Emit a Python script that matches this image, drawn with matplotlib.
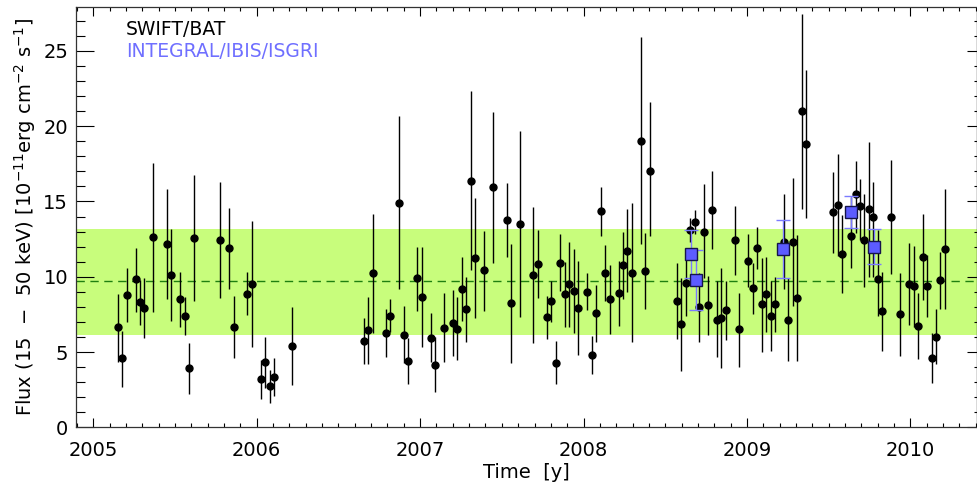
import matplotlib
matplotlib.use('Agg')
import matplotlib.pyplot as plt
import numpy as np
from matplotlib.ticker import MultipleLocator

# SWIFT/BAT light curve: time [y], flux, upper and lower end of error bar
t_bat = [2005.149, 2005.176, 2005.204, 2005.259, 2005.286, 2005.312, 2005.367, 2005.449,
         2005.477, 2005.532, 2005.559, 2005.588, 2005.614, 2005.777, 2005.832, 2005.861,
         2005.943, 2005.969, 2006.024, 2006.051, 2006.080, 2006.106, 2006.216, 2006.655,
         2006.681, 2006.710, 2006.791, 2006.818, 2006.873, 2006.900, 2006.928, 2006.981,
         2007.010, 2007.065, 2007.091, 2007.146, 2007.201, 2007.228, 2007.256, 2007.283,
         2007.310, 2007.338, 2007.393, 2007.448, 2007.530, 2007.556, 2007.611, 2007.693,
         2007.722, 2007.777, 2007.803, 2007.832, 2007.858, 2007.885, 2007.913, 2007.940,
         2007.968, 2008.023, 2008.050, 2008.078, 2008.105, 2008.132, 2008.160, 2008.215,
         2008.242, 2008.268, 2008.297, 2008.352, 2008.378, 2008.407, 2008.570, 2008.597,
         2008.625, 2008.652, 2008.681, 2008.707, 2008.736, 2008.762, 2008.788, 2008.817,
         2008.843, 2008.870, 2008.925, 2008.953, 2009.009, 2009.035, 2009.062, 2009.091,
         2009.117, 2009.146, 2009.172, 2009.227, 2009.253, 2009.282, 2009.308, 2009.337,
         2009.364, 2009.529, 2009.556, 2009.584, 2009.639, 2009.666, 2009.692, 2009.719,
         2009.747, 2009.774, 2009.802, 2009.829, 2009.884, 2009.939, 2009.994, 2010.021,
         2010.049, 2010.076, 2010.102, 2010.131, 2010.157, 2010.184, 2010.212]
f_bat = [6.64, 4.58, 8.78, 9.83, 8.30, 7.92, 12.62, 12.17, 10.13, 8.52, 7.39, 3.92, 12.57,
         12.44, 11.89, 6.68, 8.87, 9.54, 3.19, 4.34, 2.72, 3.36, 5.40, 5.73, 6.44, 10.25,
         6.26, 7.41, 14.91, 6.13, 4.38, 9.89, 8.65, 5.95, 4.16, 6.61, 6.95, 6.53, 9.20,
         7.83, 16.37, 11.24, 10.42, 15.94, 13.78, 8.23, 13.50, 10.13, 10.82, 7.30, 8.39,
         4.29, 10.93, 8.87, 9.50, 9.05, 7.92, 9.00, 4.80, 7.59, 14.34, 10.25, 8.50, 8.92,
         10.78, 11.73, 10.27, 19.03, 10.38, 17.01, 8.41, 6.86, 9.56, 13.10, 13.61, 8.01,
         12.99, 8.10, 14.43, 7.14, 7.28, 7.77, 12.44, 6.51, 11.06, 9.23, 11.89, 8.17, 8.85,
         7.41, 8.17, 12.32, 7.14, 12.30, 8.57, 20.98, 18.81, 14.32, 14.78, 11.53, 12.70,
         15.49, 14.67, 12.44, 14.52, 13.96, 9.85, 7.72, 13.96, 7.50, 9.52, 9.36, 6.73,
         11.33, 9.40, 4.60, 6.02, 9.80, 11.84]
hi_bat = [8.85, 6.39, 10.56, 11.93, 9.78, 9.89, 17.53, 15.80, 13.17, 10.33, 8.63, 5.62, 16.75,
          16.27, 14.58, 8.72, 10.29, 13.70, 4.47, 6.02, 3.80, 4.62, 7.97, 7.24, 8.67, 14.16,
          7.83, 8.50, 20.67, 8.05, 5.91, 11.99, 11.95, 7.57, 5.98, 8.90, 9.12, 8.63, 11.33,
          9.96, 22.33, 15.21, 13.03, 20.96, 16.20, 12.17, 19.67, 14.65, 13.10, 8.72, 9.73,
          5.75, 12.82, 11.00, 12.28, 11.82, 11.04, 10.23, 6.08, 9.45, 15.98, 12.10, 10.78,
          11.06, 12.95, 14.47, 14.87, 25.90, 12.88, 21.58, 10.93, 9.93, 11.82, 13.92, 14.43,
          10.26, 16.13, 10.05, 17.02, 9.71, 10.60, 9.71, 14.71, 8.94, 12.84, 10.89, 13.28,
          11.26, 11.33, 9.73, 9.96, 15.49, 9.89, 16.57, 12.75, 27.44, 23.73, 16.97, 18.15,
          14.10, 15.31, 17.70, 16.47, 15.49, 18.96, 16.31, 13.10, 10.33, 17.75, 10.27, 12.22,
          12.06, 8.90, 14.16, 11.44, 6.28, 7.83, 11.66, 15.80]
lo_bat = [4.36, 2.70, 6.97, 7.68, 6.79, 5.91, 7.68, 8.50, 7.06, 6.68, 6.13, 2.19, 8.41,
          8.57, 9.18, 4.62, 7.46, 5.35, 1.86, 2.63, 1.63, 2.10, 2.81, 4.20, 4.18, 6.28,
          4.69, 6.31, 9.16, 4.25, 2.86, 7.74, 5.31, 4.36, 2.32, 4.32, 4.73, 4.47, 7.06,
          5.68, 10.44, 7.28, 7.74, 10.89, 11.33, 4.29, 7.30, 5.62, 8.57, 5.84, 6.97,
          2.86, 9.07, 6.68, 6.68, 6.24, 4.80, 7.79, 3.54, 5.68, 12.70, 8.41, 6.20, 6.75,
          8.52, 9.00, 5.64, 12.17, 7.83, 12.70, 5.84, 3.76, 7.41, 12.30, 12.82, 5.68,
          9.89, 6.13, 11.84, 4.65, 3.92, 5.80, 10.11, 4.02, 9.30, 7.52, 10.49, 5.02, 6.35,
          5.09, 6.35, 9.16, 4.40, 8.05, 4.40, 14.48, 13.88, 11.59, 11.37, 8.94, 10.56,
          12.88, 12.44, 9.34, 10.00, 10.00, 7.39, 5.09, 10.18, 4.73, 6.79, 6.68, 4.54,
          8.45, 7.34, 2.92, 4.20, 7.85, 7.85]

# INTEGRAL/IBIS/ISGRI
t_isgri = [2008.658, 2008.687, 2009.221, 2009.639, 2009.776]
f_isgri = [11.49, 9.78, 11.84, 14.32, 11.99]
e_isgri = [1.60, 1.99, 1.93, 1.07, 1.17]

mean_flux = 9.7
band_lo, band_hi = 6.15, 13.2

t_bat = np.array(t_bat)
f_bat = np.array(f_bat)
yerr = [f_bat - np.array(lo_bat), np.array(hi_bat) - f_bat]

fig = plt.figure(figsize=(9.78, 4.86), dpi=100)
ax = fig.add_axes([0.0782, 0.1208, 0.9208, 0.8642])

ax.axhspan(band_lo, band_hi, color='#c8fd7c', lw=0, zorder=0)
ax.axhline(mean_flux, color='#1f7f10', ls=(0, (6, 4)), lw=1.0, zorder=1)

ax.errorbar(t_bat, f_bat, yerr=yerr, fmt='o', color='black', ms=5,
            elinewidth=1.0, capsize=0, zorder=3)
ax.errorbar(t_isgri, f_isgri, yerr=e_isgri, fmt='none', ecolor='#7b7bff',
            elinewidth=1.0, capsize=5, capthick=1.0, zorder=4)
ax.plot(t_isgri, f_isgri, 's', ms=9, mfc='#5c5cff', mec='#15154a', mew=1.0, zorder=5)

ax.set_xlim(2004.897, 2010.408)
ax.set_ylim(0, 27.9)
ax.xaxis.set_major_locator(MultipleLocator(1))
ax.xaxis.set_minor_locator(MultipleLocator(0.1))
ax.yaxis.set_major_locator(MultipleLocator(5))
ax.yaxis.set_minor_locator(MultipleLocator(1))
ax.xaxis.set_major_formatter(plt.FuncFormatter(lambda v, p: '%d' % round(v)))

ax.tick_params(axis='x', which='both', direction='in', top=True, labelsize=14, pad=10)
ax.tick_params(axis='x', which='major', length=6.5, width=0.8)
ax.tick_params(axis='x', which='minor', length=3, width=0.8)
ax.tick_params(axis='y', which='both', direction='in', right=False, labelsize=14, pad=6)
ax.tick_params(axis='y', which='major', length=13, width=0.8)
ax.tick_params(axis='y', which='minor', length=6.5, width=0.8)

sec = ax.secondary_yaxis('right')
sec.yaxis.set_major_locator(MultipleLocator(5))
sec.yaxis.set_minor_locator(MultipleLocator(1))
sec.tick_params(which='both', direction='in', labelright=False)
sec.tick_params(which='major', length=7, width=0.8)
sec.tick_params(which='minor', length=2, width=0.8)

for s in ax.spines.values():
    s.set_linewidth(0.9)
    s.set_color('#333333')

ax.set_xlabel('Time  [y]', fontsize=14, labelpad=2)
ax.set_ylabel('Flux (15  $-$  50 keV) [10$^{-11}$erg cm$^{-2}$ s$^{-1}$]', fontsize=14, labelpad=4)

ax.text(0.055, 0.946, 'SWIFT/BAT', transform=ax.transAxes, fontsize=13.5, color='black', va='center')
ax.text(0.055, 0.894, 'INTEGRAL/IBIS/ISGRI', transform=ax.transAxes, fontsize=13.5,
        color='#6f6fff', va='center')

plt.savefig('out.png', dpi=100)
